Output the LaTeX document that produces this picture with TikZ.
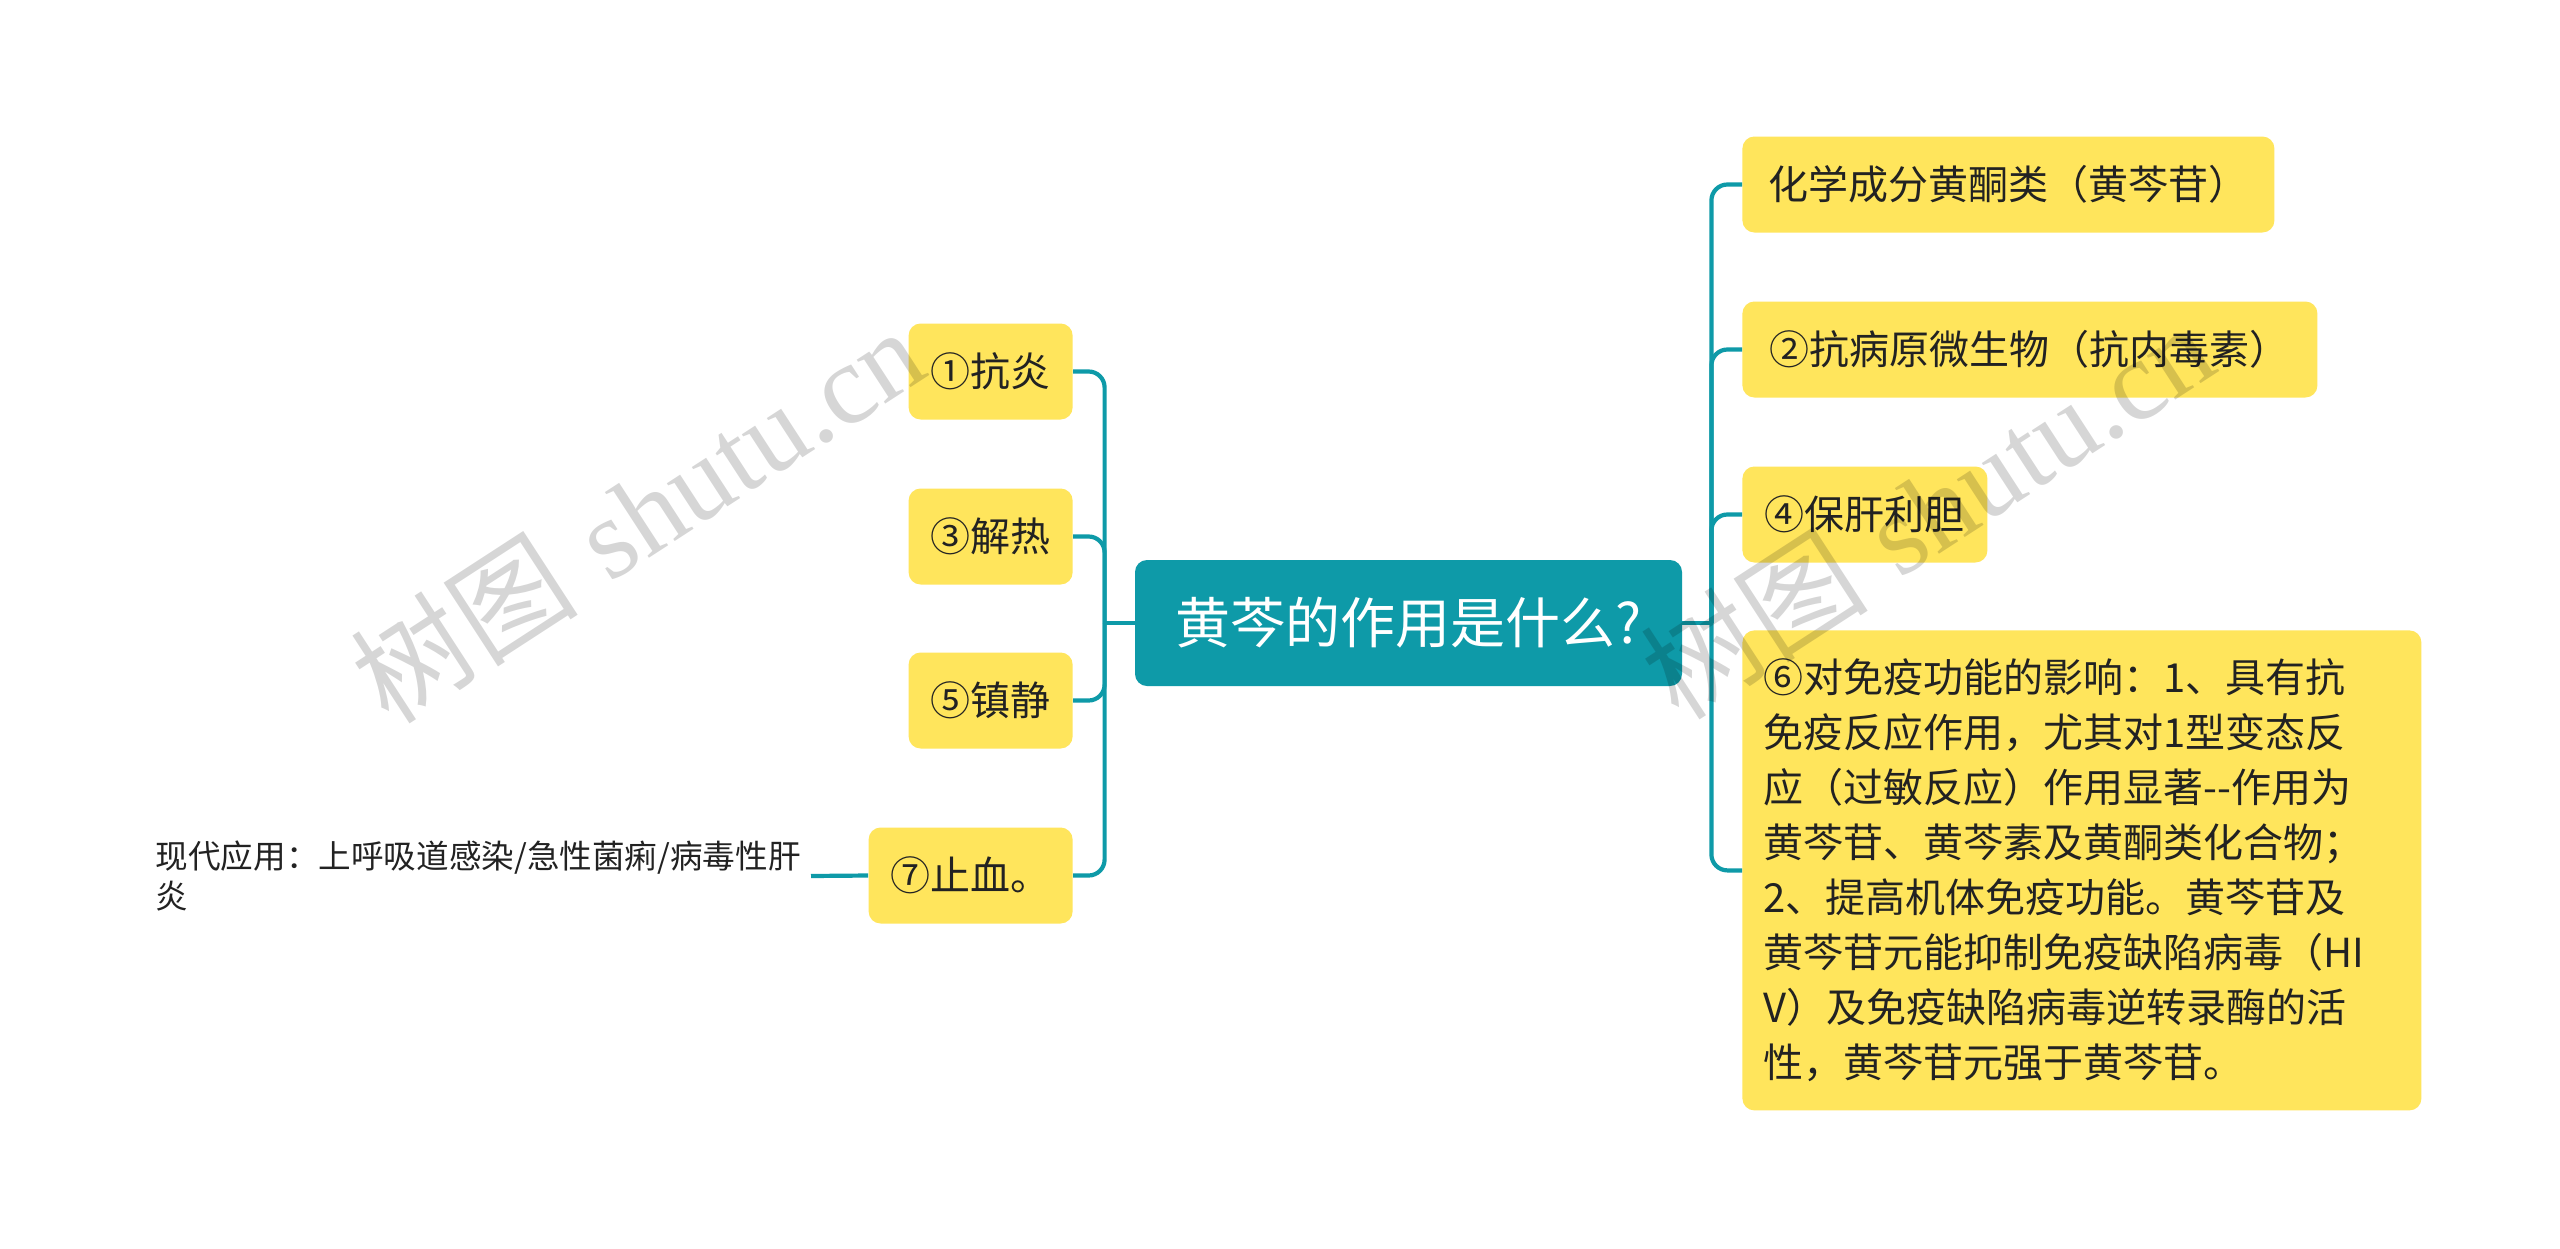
\documentclass[tikz,border=0pt]{standalone}
\usepackage{fontspec}
\newfontfamily\cjk{Noto Sans CJK SC}
\newfontfamily\wmserif{Liberation Serif}
\definecolor{tealc}{HTML}{0E9AA8}
\definecolor{yel}{HTML}{FFE55C}
\definecolor{txt}{HTML}{222222}
\tikzset{
  leaf/.style={fill=yel, rounded corners=6pt, text=txt, inner sep=0pt,
    minimum height=48pt, font=\cjk\fontsize{20}{27.5}\selectfont},
  rootbox/.style={fill=tealc, rounded corners=6pt, text=white, inner sep=0pt,
    minimum width=273.5pt, minimum height=63pt, font=\cjk\fontsize{27.5}{32}\selectfont},
  plain/.style={text=txt, inner xsep=5pt, inner ysep=0pt, align=left,
    font=\cjk\fontsize{16.3}{20}\selectfont},
  conn/.style={draw=tealc, line width=2.1pt, rounded corners=8pt},
  wmark/.style={rotate=33, text=black, text opacity=0.16, font=\fontsize{57}{60}\selectfont}
}
\begin{document}
\begin{tikzpicture}[x=0.5pt, y=-0.5pt]
\useasboundingbox[fill=white] (0,0) rectangle (2560,1248);

% root
\node[rootbox] (root) at (1408.5,623) {黄芩的作用是什么?\hspace{20pt}};

% left children
\node[leaf, minimum width=82pt, anchor=east] (n1) at (1073,371.5) {①抗炎};
\node[leaf, minimum width=82pt, anchor=east] (n3) at (1073,536.5) {③解热};
\node[leaf, minimum width=82pt, anchor=east] (n5) at (1073,700.5) {⑤镇静};
\node[leaf, minimum width=102pt, anchor=east] (n7) at (1073,875.5) {⑦止血。};
\node[plain, anchor=east] (lt) at (811,876) {现代应用：上呼吸道感染/急性菌痢/病毒性肝\\炎};

% right children
\node[leaf, minimum width=266pt, anchor=west] (r1) at (1742,184.5) {化学成分黄酮类（黄芩苷）};
\node[leaf, minimum width=287.5pt, anchor=west] (r2) at (1742,349.5) {②抗病原微生物（抗内毒素）};
\node[leaf, minimum width=122.5pt, anchor=west] (r4) at (1742,514.5) {④保肝利胆};
\node[leaf, anchor=north west, text width=318.5pt, inner xsep=10.5pt, minimum height=240pt, align=left] (r6) at (1742,630)
 {⑥对免疫功能的影响：1、具有抗\\
  免疫反应作用，尤其对1型变态反\\
  应（过敏反应）作用显著--作用为\\
  黄芩苷、黄芩素及黄酮类化合物；\\
  2、提高机体免疫功能。黄芩苷及\\
  黄芩苷元能抑制免疫缺陷病毒（HI\\
  V）及免疫缺陷病毒逆转录酶的活\\
  性，黄芩苷元强于黄芩苷。};

% connectors
\path (root.west) ++(-30,0) coordinate (jl);
\path (root.east) ++(29,0) coordinate (jr);
\draw[conn] (root.west) -- (jl);
\draw[conn] (jl) |- (n1.east);
\draw[conn] (jl) |- (n3.east);
\draw[conn] (jl) |- (n5.east);
\draw[conn] (jl) |- (n7.east);
\draw[conn] (n7.west) -- (lt.east);
\draw[conn] (root.east) -- (jr);
\draw[conn] (jr) |- (r1.west);
\draw[conn] (jr) |- (r2.west);
\draw[conn] (jr) |- (r4.west);
\draw[conn] (jr) |- (r6.west);

% watermarks
\node[wmark] (wm1) at (637,514) {{\cjk 树图} {\wmserif shutu.cn}};
\node[wmark] (wm2) at (1927,510) {{\cjk 树图} {\wmserif shutu.cn}};
\end{tikzpicture}
\end{document}
